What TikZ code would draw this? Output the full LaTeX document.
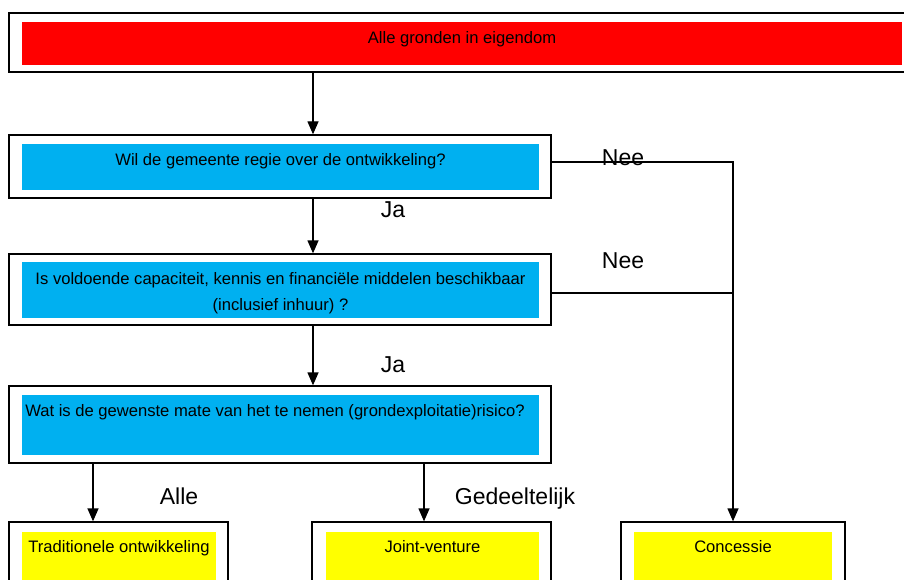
\documentclass[tikz,border=0pt]{standalone}
\usepackage{fontspec}
\setmainfont{Liberation Sans}
\usetikzlibrary{arrows.meta}
\definecolor{topred}{HTML}{FF0000}
\definecolor{qblue}{HTML}{00B0F0}
\definecolor{ryellow}{HTML}{FFFF00}
\tikzset{
  outerbox/.style={draw=black, line width=1.3pt, fill=white, inner sep=0pt},
  innerbox/.style={draw=none, inner sep=0pt},
  boxtext/.style={font=\fontsize{16.6}{26}\selectfont, inner sep=0pt, anchor=base, align=center},
  lbl/.style={font=\fontsize{23}{26}\selectfont, inner sep=0pt, anchor=base},
  conn/.style={line width=1.3pt, draw=black},
  arr/.style={conn, -{Triangle[length=13pt,width=11pt]}}
}
\begin{document}
\begin{tikzpicture}[x=1pt,y=-1pt]
\clip (0,0) rectangle (904,580);
\fill[white] (0,0) rectangle (904,580);
% boxes
\node[outerbox, minimum width=896pt, minimum height=59pt] (top) at (457,42.5) {};
\node[innerbox, fill=topred, minimum width=880pt, minimum height=43pt] (topin) at (462,43.5) {};
\node[boxtext] (toptxt) at (462,43.3) {Alle gronden in eigendom};

\node[outerbox, minimum width=542pt, minimum height=63pt] (b2) at (280,166.5) {};
\node[innerbox, fill=qblue, minimum width=517pt, minimum height=46pt] (b2in) at (280.5,167) {};
\node[boxtext] (b2txt) at (280.5,166) {Wil de gemeente regie over de ontwikkeling?};

\node[outerbox, minimum width=542pt, minimum height=71pt] (b3) at (280,289.5) {};
\node[innerbox, fill=qblue, minimum width=517pt, minimum height=56pt] (b3in) at (280.5,290) {};
\node[boxtext] (b3txt) at (280.5,310) {Is voldoende capaciteit, kennis en financiële middelen beschikbaar\\(inclusief inhuur) ?};

\node[outerbox, minimum width=542pt, minimum height=77pt] (b4) at (280,424.5) {};
\node[innerbox, fill=qblue, minimum width=517pt, minimum height=60pt] (b4in) at (280.5,425) {};
\node[boxtext] (b4txt) at (275,416.7) {Wat is de gewenste mate van het te nemen (grondexploitatie)risico?};

\node[outerbox, minimum width=219pt, minimum height=78pt] (ra) at (118.5,561) {};
\node[innerbox, fill=ryellow, minimum width=194pt, minimum height=68pt] (rain) at (119,566) {};
\node[boxtext] (ratxt) at (119,552) {Traditionele ontwikkeling};

\node[outerbox, minimum width=239pt, minimum height=78pt] (rb) at (431.5,561) {};
\node[innerbox, fill=ryellow, minimum width=213pt, minimum height=68pt] (rbin) at (432.5,566) {};
\node[boxtext] (rbtxt) at (432.5,552) {Joint-venture};

\node[outerbox, minimum width=224pt, minimum height=78pt] (rc) at (733,561) {};
\node[innerbox, fill=ryellow, minimum width=198pt, minimum height=68pt] (rcin) at (733,566) {};
\node[boxtext] (rctxt) at (733,552) {Concessie};

% helper coordinates
\coordinate (xmain) at (313,0);
\coordinate (xa) at (93,0);
\coordinate (xb) at (424,0);
\coordinate (xc) at (733,0);

% vertical arrows
\draw[arr] (top.south -| xmain) -- (b2.north -| xmain);
\draw[arr] (b2.south -| xmain) -- (b3.north -| xmain);
\draw[arr] (b3.south -| xmain) -- (b4.north -| xmain);
\draw[arr] (b4.south -| xa) -- (ra.north -| xa);
\draw[arr] (b4.south -| xb) -- (rb.north -| xb);

% Nee routes
\coordinate (e2) at ([yshift=4.5pt]b2.east);
\coordinate (e3) at ([yshift=-3.5pt]b3.east);
\draw[conn] (e2) -- (e2 -| xc) -- (e3 -| xc);
\draw[conn] (e3) -- (e3 -| xc);
\draw[arr] (e3 -| xc) -- (rc.north -| xc);

% labels
\node[lbl] (nee1) at (623,166) {Nee};
\node[lbl] (nee2) at (623,268) {Nee};
\node[lbl] (ja1) at (393,217) {Ja};
\node[lbl] (ja2) at (393,372) {Ja};
\node[lbl] (alle) at (179,504) {Alle};
\node[lbl] (gedeel) at (515,504) {Gedeeltelijk};
\end{tikzpicture}
\end{document}
